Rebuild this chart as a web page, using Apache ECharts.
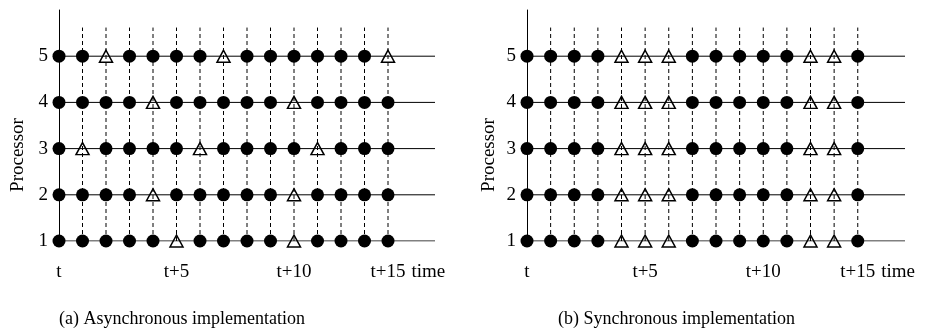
<!DOCTYPE html>
<html>
<head>
<meta charset="utf-8">
<style>
  html, body { margin: 0; padding: 0; background: #fff; }
  #main { width: 932px; height: 334px; }
</style>
<script src="https://cdn.jsdelivr.net/npm/echarts@6/dist/echarts.min.js"></script>
</head>
<body>
<div id="main"></div>
<script>
// time steps t .. t+14 (one mark per step)
var timeSteps = [0, 1, 2, 3, 4, 5, 6, 7, 8, 9, 10, 11, 12, 13, 14];
var tickSteps = [0, 5, 10, 14];
var tickTexts = ['t', 't+5', 't+10', 't+15'];
var processors = [1, 2, 3, 4, 5];

// (a) asynchronous: steps where each processor is idle (triangle)
var asyncIdleP1 = [5, 10];
var asyncIdleP2 = [4, 10];
var asyncIdleP3 = [1, 6, 11];
var asyncIdleP4 = [4, 10];
var asyncIdleP5 = [2, 7, 14];
// (b) synchronous: every processor idle at the same steps
var syncIdle = [4, 5, 6, 12, 13];

var asyncIdle = [asyncIdleP1, asyncIdleP2, asyncIdleP3, asyncIdleP4, asyncIdleP5];
var syncIdleAll = [syncIdle, syncIdle, syncIdle, syncIdle, syncIdle];

var FONT = 'Liberation Serif';
var lineEnd = 16;   // horizontal lines run past the last step
var dashTop = 5.62; // dashed guides stop a bit above processor 5

function panelSeries(idx, idleLists) {
  var s = [];
  processors.forEach(function (p) {
    s.push({
      type: 'line', xAxisIndex: idx, yAxisIndex: idx,
      data: [[0, p], [lineEnd, p]],
      symbol: 'none', silent: true,
      lineStyle: { color: '#000', width: 1, opacity: 1 }
    });
  });
  timeSteps.forEach(function (t) {
    if (t === 0) return;
    s.push({
      type: 'line', xAxisIndex: idx, yAxisIndex: idx,
      data: [[t, 1], [t, dashTop]],
      symbol: 'none', silent: true,
      lineStyle: { color: '#000', width: 1, type: [4, 3], opacity: 1 }
    });
  });
  var busy = [], idle = [];
  processors.forEach(function (p, i) {
    timeSteps.forEach(function (t) {
      if (idleLists[i].indexOf(t) >= 0) idle.push([t, p]);
      else busy.push([t, p]);
    });
  });
  s.push({
    type: 'scatter', xAxisIndex: idx, yAxisIndex: idx,
    data: busy, symbol: 'circle', symbolSize: 13,
    itemStyle: { color: '#000', opacity: 1 }
  });
  s.push({
    type: 'scatter', xAxisIndex: idx, yAxisIndex: idx,
    data: idle, symbol: 'triangle', symbolSize: [13, 12],
    itemStyle: { color: '#fff', borderColor: '#000', borderWidth: 1.5, opacity: 1 }
  });
  return s;
}

function xAxisFor(idx) {
  return {
    type: 'value', gridIndex: idx, min: 0, max: lineEnd, interval: 1,
    axisLine: { show: false }, axisTick: { show: false }, splitLine: { show: false },
    axisLabel: {
      margin: 22, color: '#000', fontFamily: FONT, fontSize: 19,
      formatter: function (v) {
        var k = tickSteps.indexOf(v);
        return k >= 0 ? tickTexts[k] : '';
      }
    },
    name: 'time', nameLocation: 'end', nameGap: -24,
    nameTextStyle: { color: '#000', fontFamily: FONT, fontSize: 19, verticalAlign: 'top', padding: [22, 0, 0, 0] }
  };
}

function yAxisFor(idx) {
  return {
    type: 'value', gridIndex: idx, min: 1, max: 6, interval: 1,
    axisLine: { show: true, lineStyle: { color: '#000', width: 1 } },
    axisTick: { show: false }, splitLine: { show: false },
    axisLabel: {
      margin: 11, color: '#000', fontFamily: FONT, fontSize: 19,
      formatter: function (v) { return v <= 5 ? String(v) : ''; }
    }
  };
}

var myChart = echarts.init(document.getElementById('main'));
myChart.setOption({
  animation: false,
  title: [
    { text: '(a) Asynchronous implementation', left: 59, top: 310, padding: 0,
      textStyle: { color: '#000', fontFamily: FONT, fontSize: 18, fontWeight: 'normal' } },
    { text: '(b) Synchronous implementation', left: 558, top: 310, padding: 0,
      textStyle: { color: '#000', fontFamily: FONT, fontSize: 18, fontWeight: 'normal' } }
  ],
  graphic: [
    { type: 'text', x: 18, y: 155, rotation: Math.PI / 2,
      style: { text: 'Processor', font: '19px "Liberation Serif"', fill: '#000', align: 'center', verticalAlign: 'middle' } },
    { type: 'text', x: 489, y: 155, rotation: Math.PI / 2,
      style: { text: 'Processor', font: '19px "Liberation Serif"', fill: '#000', align: 'center', verticalAlign: 'middle' } }
  ],
  grid: [
    { left: 59, top: 10, width: 376, height: 231 },
    { left: 527, top: 10, width: 378, height: 231 }
  ],
  xAxis: [xAxisFor(0), xAxisFor(1)],
  yAxis: [yAxisFor(0), yAxisFor(1)],
  series: panelSeries(0, asyncIdle).concat(panelSeries(1, syncIdleAll))
});
</script>
</body>
</html>
